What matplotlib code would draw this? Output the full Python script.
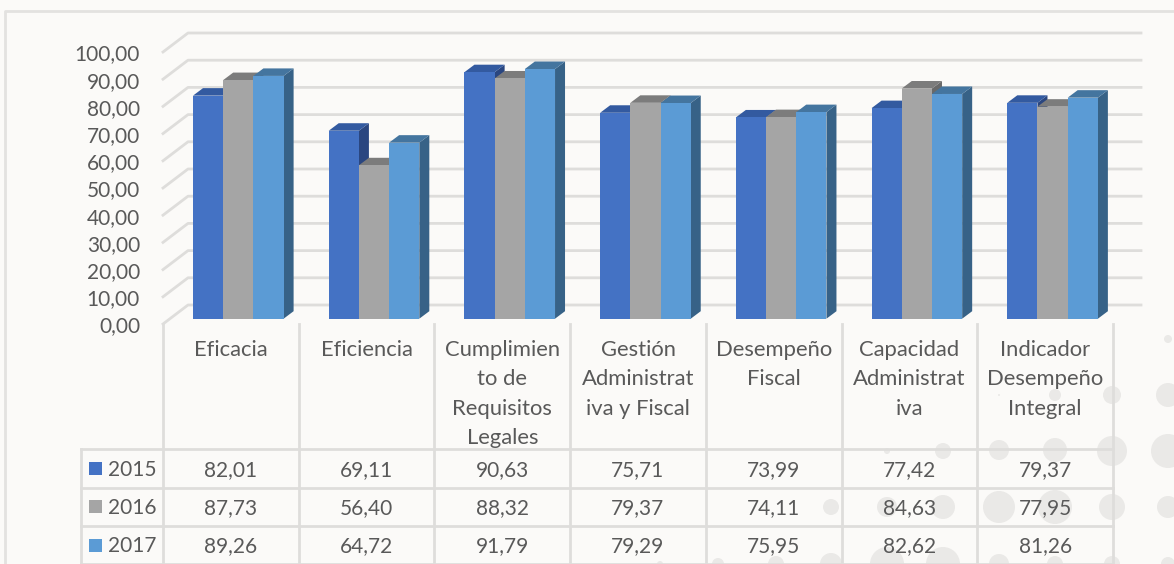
import matplotlib
matplotlib.use('Agg')
import matplotlib.pyplot as plt
from matplotlib.patches import Circle, Polygon, Rectangle

plt.rcParams['font.family'] = ['Lato', 'DejaVu Sans']

# Data
categories = ['Eficacia', 'Eficiencia', 'Cumplimien\nto de\nRequisitos\nLegales',
              'Gestión\nAdministrat\niva y Fiscal', 'Desempeño\nFiscal',
              'Capacidad\nAdministrat\niva', 'Indicador\nDesempeño\nIntegral']
years = ['2015', '2016', '2017']
v2015 = [82.01, 69.11, 90.63, 75.71, 73.99, 77.42, 79.37]
v2016 = [87.73, 56.40, 88.32, 79.37, 74.11, 84.63, 77.95]
v2017 = [89.26, 64.72, 91.79, 79.29, 75.95, 82.62, 81.26]
series = [v2015, v2016, v2017]
y_ticks = list(range(0, 101, 10))

front = ['#4472C4', '#A5A5A5', '#5B9BD5']
top = ['#335AA0', '#7C7C7C', '#44759F']
side = ['#2A4680', '#696969', '#376287']
grid = '#DEDDDB'
text = '#595959'
bg = '#FBFAF8'

W, H = 1174, 564
fig = plt.figure(figsize=(W / 100, H / 100), dpi=100, facecolor=bg)

# full-figure layer in pixels for the frame and the table
page = fig.add_axes([0, 0, 1, 1])
page.set_xlim(0, W)
page.set_ylim(H, 0)
page.axis('off')

# faint dotted pattern of the slide background
dots = [(1168, 339, 4), (1112, 395, 9), (1168, 395, 12), (1055, 395, 6), (999, 395, 1),
        (943, 451, 8), (887, 451, 3), (999, 450, 10), (1055, 450, 12), (1112, 451, 15),
        (1168, 451, 17), (831, 507, 8), (887, 507, 10), (943, 507, 12), (999, 507, 16),
        (1055, 507, 17), (1112, 507, 13), (1168, 507, 11), (660, 564, 3), (718, 564, 6),
        (776, 564, 8), (831, 564, 11), (887, 564, 17), (943, 564, 17), (999, 564, 10),
        (1055, 564, 8), (1112, 564, 8), (1168, 564, 7)]
for x, y, r in dots:
    page.add_patch(Circle((x, y), r, color='#EAE9E7', lw=0, zorder=1))

page.plot([5, 5, W], [H, 11, 11], color='#E3E2E0', lw=2, zorder=2)

# chart axes: x in categories, y in values
ax = fig.add_axes([163 / W, 1 - 324 / H, 950 / W, 272 / H])
ax.set_xlim(0, 7)
ax.set_ylim(0, 100)
ax.axis('off')
ax.patch.set_alpha(0)

px_x = 7 / 950
px_y = 100 / 272

# gridlines on the back wall with the diagonal on the left
wall_dx, wall_dy = 25 * px_x, 19 * px_y
for t in y_ticks:
    ax.plot([0, wall_dx, 7 + 28 * px_x], [t, t + wall_dy, t + wall_dy],
            color=grid, lw=2, clip_on=False, zorder=2)
    ax.text(-23 * px_x, t - 2.5 * px_y, f'{t:.2f}'.replace('.', ','), ha='right', va='center',
            fontsize=15, color=text, clip_on=False)

# bars
bar_w = 30.2 * px_x
depth_x, depth_y = 10 * px_x, 7.5 * px_y
lift = 5.3 * px_y
start = 30 * px_x
for s, values in enumerate(series):
    for c, v in enumerate(values):
        x0 = c + start + s * bar_w
        x1 = x0 + bar_w
        ax.add_patch(Polygon([(x1, lift), (x1 + depth_x, lift + depth_y),
                              (x1 + depth_x, lift + v + depth_y), (x1, lift + v)],
                             fc=side[s], ec='none', zorder=3 + s, clip_on=False))
        ax.add_patch(Polygon([(x0, lift + v), (x0 + depth_x, lift + v + depth_y),
                              (x1 + depth_x, lift + v + depth_y), (x1, lift + v)],
                             fc=top[s], ec='none', zorder=3 + s, clip_on=False))
        ax.bar(x0, v, bar_w, bottom=lift, align='edge', color=front[s], zorder=3 + s,
               clip_on=False)

# table
cell = 950 / 7
col_x = [163 + i * cell for i in range(8)]
row_y = [449, 487.5, 526, 564]
for x in col_x:
    page.plot([x, x], [324, H], color=grid, lw=2, zorder=2)
page.plot([81, 81], [449, H], color=grid, lw=2, zorder=2)
for y in row_y:
    page.plot([81, 1113], [y, y], color=grid, lw=2, zorder=2)

for i, name in enumerate(categories):
    page.text(col_x[i] + cell / 2, 340, name, ha='center', va='top', fontsize=15.8,
              color=text, linespacing=1.58, zorder=5)

for r, (year, values) in enumerate(zip(years, series)):
    yc = (row_y[r] + row_y[r + 1]) / 2 + 1.5
    page.add_patch(Rectangle((89, yc - 8), 13, 13, fc=front[r], ec='none', zorder=5))
    page.text(108, yc, year, ha='left', va='center', fontsize=15, color=text, zorder=5)
    for i, v in enumerate(values):
        page.text(col_x[i] + cell / 2, yc, f'{v:.2f}'.replace('.', ','), ha='center',
                  va='center', fontsize=15, color=text, zorder=5)

fig.savefig('out.png', dpi=100, facecolor=bg)
